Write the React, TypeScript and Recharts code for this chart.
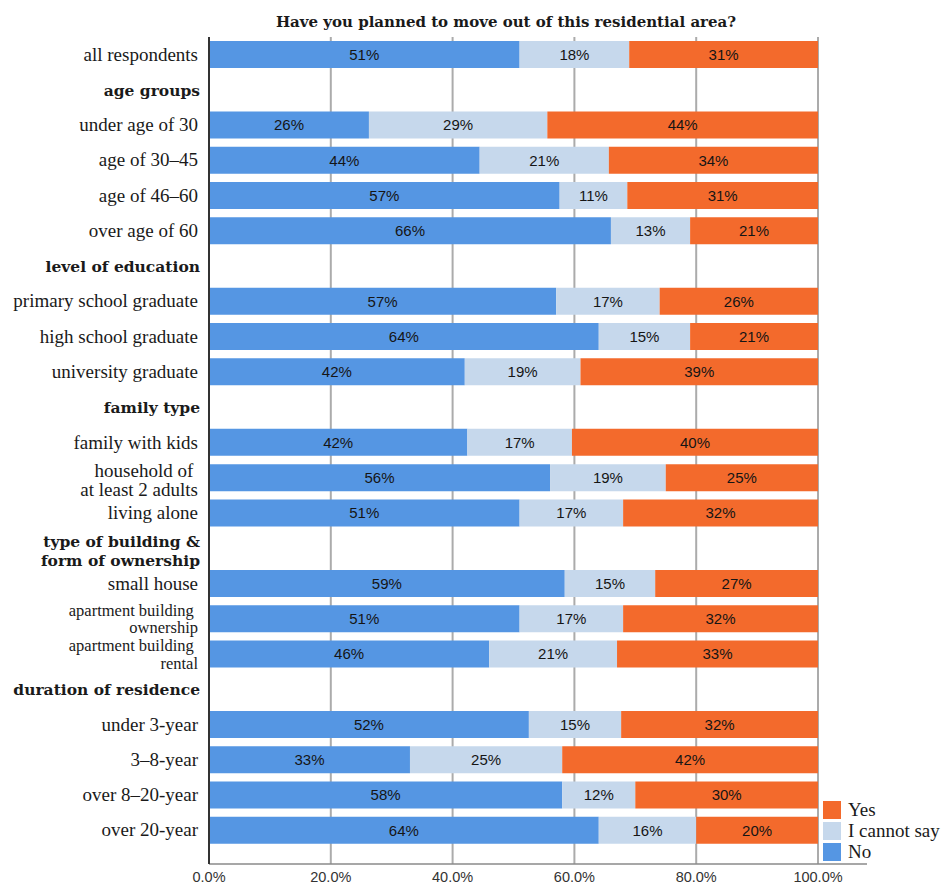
import { BarChart, Bar, XAxis, YAxis, CartesianGrid, LabelList } from 'recharts'

const CATEGORIES = [
  'all respondents',
  'age groups',
  'under age of 30',
  'age of 30–45',
  'age of 46–60',
  'over age of 60',
  'level of education',
  'primary school graduate',
  'high school graduate',
  'university graduate',
  'family type',
  'family with kids',
  'household of \nat least 2 adults',
  'living alone',
  'type of building &\nform of ownership',
  'small house',
  'apartment building \nownership',
  'apartment building \nrental',
  'duration of residence',
  'under 3-year',
  '3–8-year',
  'over 8–20-year',
  'over 20-year',
]

const HEADERS = [
  'age groups',
  'level of education',
  'family type',
  'type of building &\nform of ownership',
  'duration of residence',
]

// percentages per row, null on group header rows
const NO = [51, null, 26, 44, 57, 66, null, 57, 64, 42, null, 42, 56, 51, null, 59, 51, 46, null, 52, 33, 58, 64]
const CANNOT_SAY = [18, null, 29, 21, 11, 13, null, 17, 15, 19, null, 17, 19, 17, null, 15, 17, 21, null, 15, 25, 12, 16]
const YES = [31, null, 44, 34, 31, 21, null, 26, 21, 39, null, 40, 25, 32, null, 27, 32, 33, null, 32, 42, 30, 20]

const X_TICKS = [0, 0.2, 0.4, 0.6, 0.8, 1]

const COLORS = { no: '#5596e3', unsure: '#c6d8ec', yes: '#f36a2c' }

const LEGEND = [
  { name: 'Yes', color: COLORS.yes },
  { name: 'I cannot say', color: COLORS.unsure },
  { name: 'No', color: COLORS.no },
]

const data = CATEGORIES.map((label, i) => ({
  label,
  no: NO[i],
  unsure: CANNOT_SAY[i],
  yes: YES[i],
}))

const SERIF = '"Liberation Serif", "Times New Roman", serif'
const BOLD_SERIF = '"DejaVu Serif", serif'
const SANS = '"Liberation Sans", Arial, sans-serif'

function CategoryTick(props: any) {
  const { x, y, payload } = props
  const name = String(payload.value)
  const header = HEADERS.includes(name)
  const lines = name.split('\n')
  // the two apartment rows sit next to each other, so their wrapped lines are packed tighter
  const packed = name.startsWith('apartment')
  let size = 19
  let first = 6
  let step = 19
  if (header) size = 15.5
  if (lines.length > 1) first = -1
  if (packed) {
    size = 16.5
    first = -3
    step = 17.6
  }
  return (
    <text
      x={x}
      y={y}
      textAnchor="end"
      fill="#1a1a1a"
      style={{ whiteSpace: 'pre' }}
      fontFamily={header ? BOLD_SERIF : SERIF}
      fontWeight={header ? 'bold' : 'normal'}
      fontSize={size}
    >
      {lines.map((line, i) => (
        <tspan key={i} x={header ? x - 1 : x - 3} y={y + first + i * step}>
          {line}
        </tspan>
      ))}
    </text>
  )
}

const pct = (v: unknown) => (v == null ? '' : `${v}%`)

const labelStyle = { fontFamily: SANS, fontSize: 15, fill: '#151515' }

export default function App() {
  return (
    <div style={{ position: 'relative', width: 944, height: 886, background: '#fff' }}>
      <style>{'body{margin:0}'}</style>
      <div
        style={{
          position: 'absolute',
          left: 0,
          width: 1012,
          top: 13,
          textAlign: 'center',
          fontFamily: BOLD_SERIF,
          fontWeight: 'bold',
          fontSize: 15,
          lineHeight: '18px',
          color: '#1a1a1a',
        }}
      >
        Have you planned to move out of this residential area?
      </div>
      <BarChart
        width={944}
        height={886}
        data={data}
        layout="vertical"
        stackOffset="expand"
        margin={{ top: 37, right: 77, bottom: 0, left: 0 }}
      >
        <CartesianGrid horizontal={false} stroke="#ababab" strokeWidth={2} syncWithTicks />
        <XAxis
          type="number"
          domain={[0, 1]}
          ticks={X_TICKS}
          tickFormatter={(v: number) => `${(v * 100).toFixed(1)}%`}
          padding={{ left: 0, right: 49 }}
          height={22}
          tickLine={false}
          axisLine={{ stroke: '#8a8a8a', strokeWidth: 1.5 }}
          tick={{ fontFamily: SANS, fontSize: 14.5, fill: '#333' }}
        />
        <YAxis
          type="category"
          dataKey="label"
          width={209}
          interval={0}
          tickLine={false}
          padding={{ top: 0, bottom: 16 }}
          axisLine={{ stroke: '#333', strokeWidth: 2 }}
          tick={<CategoryTick />}
        />
        <Bar dataKey="no" stackId="a" fill={COLORS.no} barSize={27} isAnimationActive={false}>
          <LabelList dataKey="no" position="center" formatter={pct} style={labelStyle} />
        </Bar>
        <Bar dataKey="unsure" stackId="a" fill={COLORS.unsure} barSize={27} isAnimationActive={false}>
          <LabelList dataKey="unsure" position="center" formatter={pct} style={labelStyle} />
        </Bar>
        <Bar dataKey="yes" stackId="a" fill={COLORS.yes} barSize={27} isAnimationActive={false}>
          <LabelList dataKey="yes" position="center" formatter={pct} style={labelStyle} />
        </Bar>
      </BarChart>
      <div style={{ position: 'absolute', left: 823, top: 799 }}>
        {LEGEND.map((item) => (
          <div key={item.name} style={{ display: 'flex', alignItems: 'center', height: 21 }}>
            <span style={{ width: 18, height: 18, background: item.color, display: 'inline-block' }} />
            <span
              style={{
                marginLeft: 7,
                fontFamily: SERIF,
                fontSize: 19,
                lineHeight: '19px',
                color: '#1a1a1a',
              }}
            >
              {item.name}
            </span>
          </div>
        ))}
      </div>
    </div>
  )
}
